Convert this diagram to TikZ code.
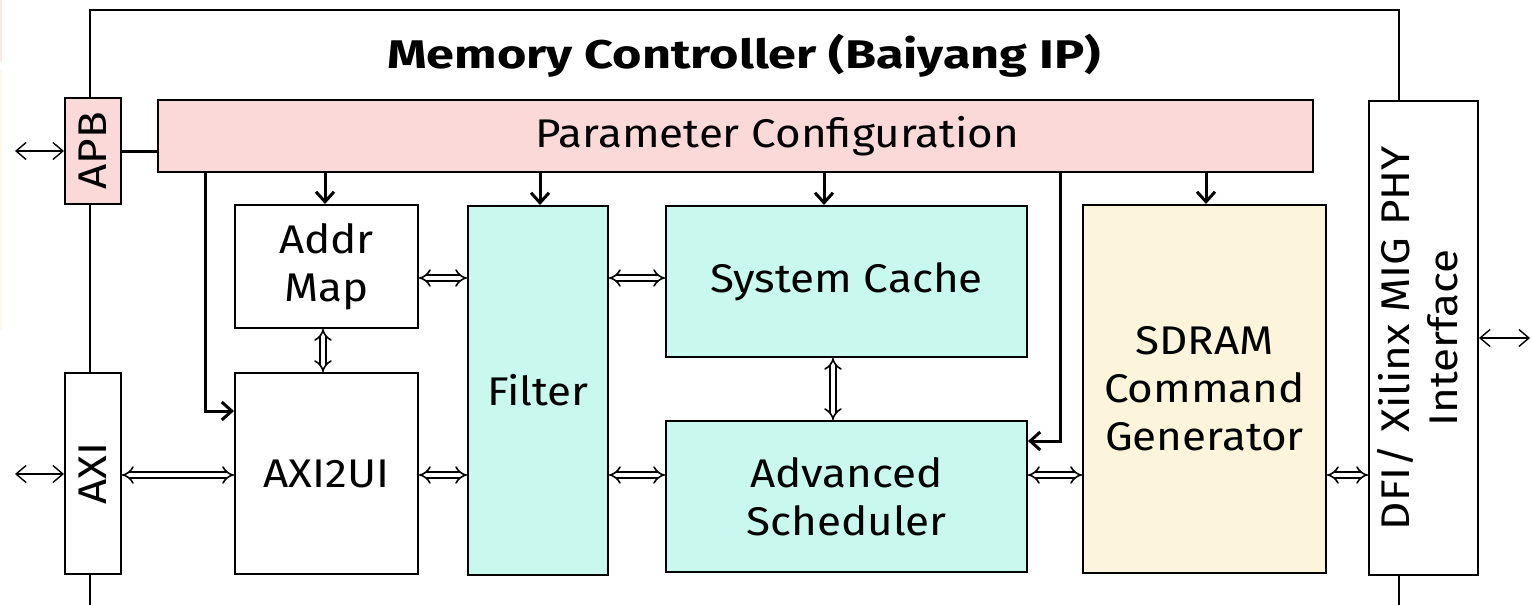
\documentclass[tikz,border=0pt]{standalone}
\usepackage{fontspec}
\setmainfont{Fira Sans}[FakeStretch=1.1]
\newfontfamily\titlefont{Fira Sans}[FakeStretch=1.26]
\usetikzlibrary{arrows.meta}
\definecolor{cfgpink}{HTML}{FBD9D9}
\definecolor{mint}{HTML}{C9F9EE}
\definecolor{cream}{HTML}{FDF5DB}
\tikzset{
  blk/.style={draw=black, line width=1pt, inner sep=0pt, align=center,
    font=\fontsize{20}{24}\selectfont},
  ctl/.style={line width=1.5pt, -{Straight Barb[length=5pt,width=9pt]}},
  ext/.style={line width=0.7pt, {Straight Barb[length=5pt,width=8.5pt]}-{Straight Barb[length=5pt,width=8.5pt]}},
  dbl/.style={double, double distance=2.2pt, line width=0.8pt, {Implies}-{Implies}},
}
\begin{document}
\begin{tikzpicture}[x=0.5pt, y=-0.5pt]
\useasboundingbox (0,0) rectangle (1532,605);
% faint strips along the left edge
\fill[cfgpink!60] (0,0) rectangle (2,62);
\fill[cream!60] (0,70) rectangle (2,330);
% outer frame of the controller
\draw[line width=1pt] (90,605) -- (90,10) -- (1399,10) -- (1399,605);
\node[font=\titlefont\bfseries\fontsize{20}{24}\selectfont] (title) at (744,56) {Memory Controller (Baiyang IP)};
% blocks
\node[blk, fill=cfgpink, minimum width=28pt, minimum height=53pt] (apb) at (93,151) {\rotatebox{90}{APB}};
\node[blk, fill=white, minimum width=28pt, minimum height=100.5pt] (axi) at (93,473.5) {\rotatebox{90}{AXI}};
\node[blk, fill=cfgpink, minimum width=577.5pt, minimum height=36pt] (cfg) at (735.5,136) {\hspace*{42pt}Parameter Configuration};
\node[blk, fill=white, minimum width=91.5pt, minimum height=61.5pt] (amap) at (326.5,266.5) {Addr\\Map};
\node[blk, fill=white, minimum width=91.5pt, minimum height=100.5pt] (axiui) at (326.5,473.5) {AXI2UI};
\node[blk, fill=mint, minimum width=70pt, minimum height=184.5pt] (filt) at (538,390.5) {Filter};
\node[blk, fill=mint, minimum width=180.5pt, minimum height=75.5pt] (cache) at (846.5,281.5) {System Cache};
\node[blk, fill=mint, minimum width=180.5pt, minimum height=75.5pt] (sched) at (846.5,496.5) {Advanced\\Scheduler};
\node[blk, fill=cream, minimum width=121.5pt, minimum height=184pt] (cmd) at (1204.5,389) {SDRAM\\Command\\Generator};
\node[blk, fill=white, minimum width=54.5pt, minimum height=237pt] (dfi) at (1423.5,338) {\rotatebox{90}{\begin{tabular}{@{}c@{}}DFI/ Xilinx MIG PHY\\Interface\end{tabular}}};
% external ports
\coordinate (apbx) at (15,151);
\coordinate (axix) at (15,474);
\coordinate (dfix) at (1530,338);
\draw[ext] (apbx) -- (apb.west |- apbx);
\draw[ext] (axix) -- (axi.west |- axix);
\draw[ext] (dfi.east |- dfix) -- (dfix);
% configuration bus
\draw[line width=1.5pt] (apb.east) -- (cfg.west |- apb.east);
\draw[ctl] (cfg.south -| 325,0) -- (amap.north -| 325,0);
\draw[ctl] (cfg.south -| 540,0) -- (filt.north -| 540,0);
\draw[ctl] (cfg.south -| 824,0) -- (cache.north -| 824,0);
\draw[ctl] (cfg.south -| 1206,0) -- (cmd.north -| 1206,0);
\draw[ctl] (cfg.south -| 205,0) -- (205,411) -- (axiui.west |- 0,411);
\draw[ctl] (cfg.south -| 1060,0) -- (1060,441) -- (sched.east |- 0,441);
% data paths
\draw[dbl] (axi.east |- 0,475) -- (axiui.west |- 0,475);
\draw[dbl] (axiui.east |- 0,475) -- (filt.west |- 0,475);
\draw[dbl] (amap.east |- 0,278) -- (filt.west |- 0,278);
\draw[dbl] (filt.east |- 0,278) -- (cache.west |- 0,278);
\draw[dbl] (filt.east |- 0,475) -- (sched.west |- 0,475);
\draw[dbl] (amap.south -| 323,0) -- (axiui.north -| 323,0);
\draw[dbl] (cache.south -| 833,0) -- (sched.north -| 833,0);
\draw[dbl] (sched.east |- 0,475) -- (cmd.west |- 0,475);
\draw[dbl] (cmd.east |- 0,475) -- (dfi.west |- 0,475);
\end{tikzpicture}
\end{document}
